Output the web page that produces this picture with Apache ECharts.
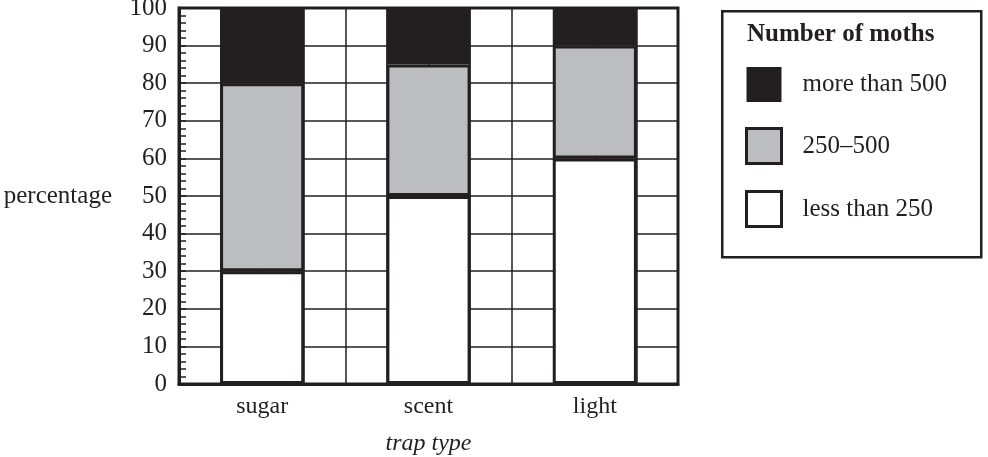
<!DOCTYPE html>
<html>
<head>
    <meta charset="utf-8" />
    <script src="https://cdn.jsdelivr.net/npm/echarts@6/dist/echarts.min.js"></script>
    <style>
        html, body { margin: 0; padding: 0; background: #fff; }
        #chart { width: 988px; height: 457px; }
    </style>
</head>
<body>
<div id="chart"></div>
<script type="text/javascript">
    // trap types and percentages
    var trapTypes = ['sugar', 'scent', 'light'];
    var lessThan250 = [30, 50, 60];
    var from250to500 = [50, 35, 30];
    var moreThan500 = [20, 15, 10];
    var yTicks = [0, 100, 10];   // min, max, step

    var ink = '#231f20';
    var grey = '#bcbdc0';
    var serif = 'Liberation Serif';

    var chart = echarts.init(document.getElementById('chart'));

    function barSeries(name, data, color) {
        return {
            name: name,
            type: 'bar',
            stack: 'moths',
            xAxisIndex: 0,
            barWidth: '50.6%',
            data: data,
            itemStyle: { color: color, borderColor: ink, borderWidth: 3 },
            emphasis: { disabled: true }
        };
    }

    var option = {
        animation: false,
        backgroundColor: '#fff',
        textStyle: { fontFamily: serif, color: ink },
        grid: {
            left: 179, right: 310, top: 8, bottom: 73,
            outerBoundsMode: 'none',
            containLabel: false,
            show: true, borderColor: ink, borderWidth: 3, backgroundColor: '#fff'
        },
        legend: {
            orient: 'vertical',
            left: 745, top: 67,
            padding: 0,
            itemWidth: 35, itemHeight: 35, itemGap: 25,
            icon: 'rect',
            selectedMode: false,
            textStyle: { fontFamily: serif, fontSize: 25, color: ink, padding: [0, 0, 0, 16], lineHeight: 30 },
            data: [
                { name: 'more than 500', itemStyle: { borderWidth: 0 } },
                { name: '250–500', itemStyle: { borderColor: ink, borderWidth: 3 } },
                { name: 'less than 250', itemStyle: { borderColor: ink, borderWidth: 3 } }
            ]
        },
        graphic: [
            {
                type: 'rect', left: 721, top: 10, z: -1,
                shape: { width: 259, height: 246 },
                style: { fill: '#fff', stroke: ink, lineWidth: 2.5 }
            },
            {
                type: 'text', left: 747, top: 22,
                style: { text: 'Number of moths', font: 'bold 25px "Liberation Serif"', fill: ink }
            }
        ],
        xAxis: [
            {
                type: 'category',
                data: trapTypes,
                axisLine: { lineStyle: { color: ink, width: 3 } },
                axisTick: { show: false },
                axisLabel: { fontFamily: serif, fontSize: 24, color: ink, margin: 11 },
                name: 'trap type',
                nameLocation: 'middle',
                nameGap: 48,
                nameTextStyle: { fontFamily: serif, fontSize: 24, fontStyle: 'italic', color: ink }
            },
            {
                // hidden helper axis that draws the vertical grid columns
                type: 'value',
                min: 0, max: 12, interval: 1,
                position: 'bottom',
                axisLine: { show: false },
                axisTick: { show: false },
                axisLabel: { show: false },
                splitLine: { show: true, lineStyle: { color: ink, width: 1.5 } }
            }
        ],
        yAxis: {
            type: 'value',
            min: yTicks[0], max: yTicks[1], interval: yTicks[2],
            axisLine: { show: true, lineStyle: { color: ink, width: 3 } },
            axisTick: { show: true, inside: true, length: 7, lineStyle: { color: ink, width: 1.5 } },
            minorTick: { show: true, splitNumber: 5, length: 7, lineStyle: { color: ink, width: 1.5 } },
            axisLabel: { fontFamily: serif, fontSize: 25, color: ink, margin: 12, padding: [4, 0, 0, 0] },
            splitLine: { show: true, lineStyle: { color: ink, width: 1.5 } },
            name: 'percentage',
            nameLocation: 'middle',
            nameRotate: 0,
            nameGap: 67,
            nameTextStyle: { fontFamily: serif, fontSize: 25, color: ink }
        },
        series: [
            barSeries('less than 250', lessThan250, '#ffffff'),
            barSeries('250–500', from250to500, grey),
            barSeries('more than 500', moreThan500, ink)
        ]
    };
    chart.setOption(option);
</script>
</body>
</html>
